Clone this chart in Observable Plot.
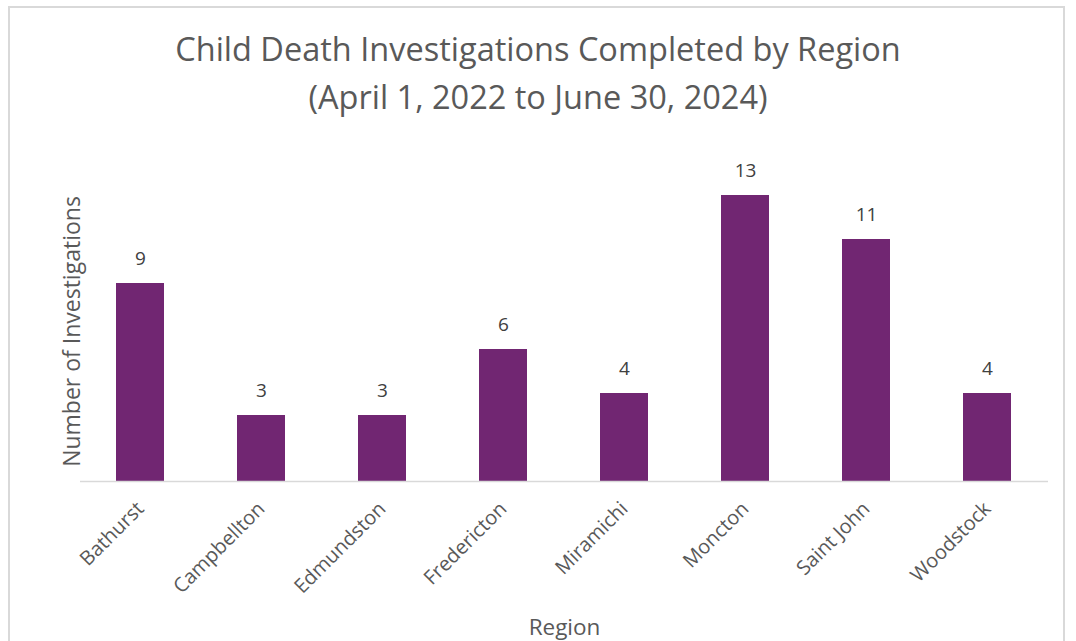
<!DOCTYPE html>
<html>
<head>
<meta charset="utf-8">
<script src="https://cdn.jsdelivr.net/npm/d3@7"></script>
<script src="https://cdn.jsdelivr.net/npm/@observablehq/plot@0.6"></script>
<style>
  html, body { margin: 0; padding: 0; background: #fff; }
  body { width: 1076px; height: 641px; overflow: hidden; position: relative; font-family: "Open Sans", sans-serif; }
  #frame { position: absolute; left: 8px; top: 6px; width: 1057px; height: 700px; border: 2px solid #d9d9d9; box-sizing: border-box; }
  #title { position: absolute; left: 0; top: 25px; width: 1076px; text-align: center; color: #595959; font-size: 32.5px; line-height: 48px; z-index: 2; }
  #chart { position: absolute; left: 0; top: 0; }
</style>
</head>
<body>
<div id="frame"></div>
<div id="title">Child Death Investigations Completed by Region<br>(April 1, 2022 to June 30, 2024)</div>
<div id="chart"></div>
<script>
const regions = ["Bathurst", "Campbellton", "Edmundston", "Fredericton", "Miramichi", "Moncton", "Saint John", "Woodstock"];
const investigations = [9, 3, 3, 6, 4, 13, 11, 4];
const yLabel = "Number of Investigations";
const xLabel = "Region";

const data = regions.map((r, i) => ({region: r, value: investigations[i]}));

const plot = Plot.plot({
  width: 1076,
  height: 641,
  marginTop: 173,
  marginBottom: 160,
  marginLeft: 80,
  marginRight: 28,
  style: {fontFamily: "Open Sans, sans-serif", color: "#595959", background: "transparent"},
  x: {domain: regions, paddingInner: 0.6, paddingOuter: 0.3, label: null},
  y: {domain: [0, 14], axis: null},
  marks: [
    Plot.barY(data, {x: "region", y: "value", fill: "#712672"}),
    Plot.ruleY([0], {stroke: "#d9d9d9", strokeWidth: 1.5}),
    Plot.text(data, {x: "region", y: "value", text: d => String(d.value), dy: -25, fill: "#404040", fontSize: 19}),
    Plot.axisX({tickSize: 0, tickRotate: -45, tickPadding: 24, fontSize: 20, label: null, color: "#595959"}),
    Plot.text([xLabel], {frameAnchor: "bottom", dy: 153, fontSize: 22.5, fill: "#595959"}),
    Plot.text([yLabel], {frameAnchor: "left", dx: -8, dy: 4, rotate: -90, textAnchor: "middle", fontSize: 23, fill: "#595959"})
  ]
});
document.getElementById("chart").appendChild(plot);
</script>
</body>
</html>
